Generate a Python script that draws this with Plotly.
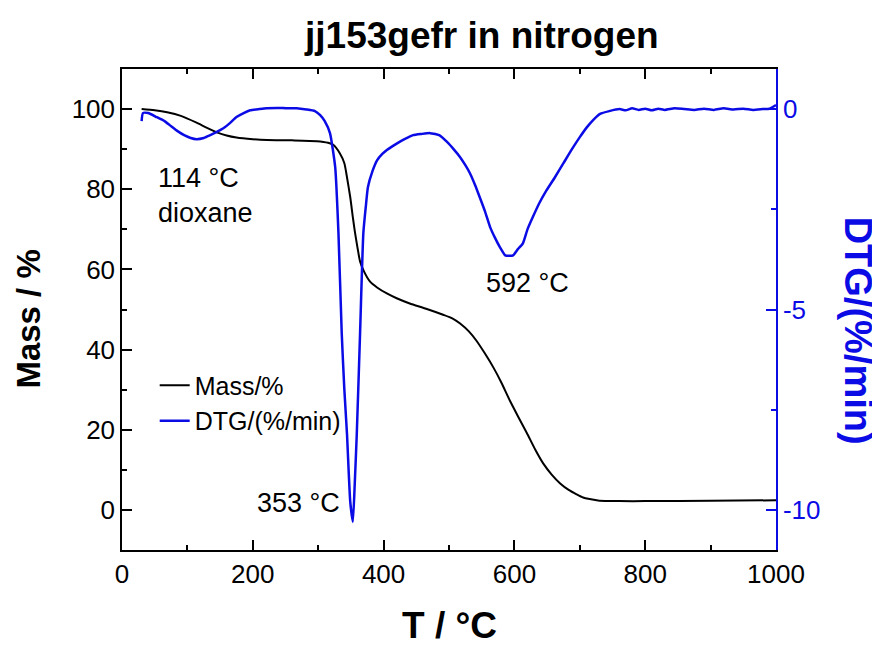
import plotly.graph_objects as go

# ---------------- data ----------------
T_mass = [30, 50, 69, 90, 114, 130, 145, 160, 175, 200, 222, 260, 298, 315, 323,
          333, 340, 344, 349, 353, 356, 360, 364, 370, 379, 390, 405, 420, 440,
          465, 491, 505, 517, 530, 542, 555, 568, 580, 593, 606, 619, 632, 644,
          657, 670, 683, 695, 705, 715, 730, 760, 800, 900, 1000]
mass = [100.0, 99.7, 99.2, 98.3, 96.6, 95.3, 94.2, 93.4, 92.9, 92.5, 92.3, 92.2,
        92.0, 91.6, 91.1, 89.0, 86.5, 83.0, 78.0, 73.0, 69.5, 65.5, 62.0, 59.5,
        57.0, 55.5, 54.0, 52.8, 51.5, 50.2, 48.7, 47.8, 46.5, 44.6, 42.2, 39.0,
        35.5, 31.8, 27.3, 23.2, 19.2, 15.0, 11.6, 8.8, 6.6, 5.0, 3.9, 3.1, 2.7,
        2.3, 2.2, 2.2, 2.3, 2.4]

T_dtg = [30, 32, 40, 53, 65, 73, 85, 95, 105, 114, 125, 135, 145, 155, 165, 175,
         186, 196, 210, 221, 237, 252, 267, 282, 295, 303, 310, 318, 326, 331,
         336, 340, 344, 349, 353, 356, 359, 364, 369, 373, 376, 383, 390, 398,
         405, 420, 432, 445, 458, 471, 485, 497, 507, 517, 525, 532, 540, 547,
         555, 563, 570, 578, 586, 592, 598, 605, 613, 620, 628, 638, 649, 662,
         675, 688, 700, 711, 720, 731, 745, 761, 770, 780, 790, 800, 810, 820,
         830, 845, 860, 875, 890, 905, 920, 935, 950, 965, 980, 990, 1000]
dtg = [-0.30, -0.10, -0.10, -0.20, -0.30, -0.40, -0.55, -0.65, -0.72, -0.75,
       -0.72, -0.65, -0.57, -0.48, -0.35, -0.20, -0.10, -0.03, 0.00, 0.02, 0.03,
       0.02, 0.02, -0.01, -0.05, -0.15, -0.30, -0.60, -1.45, -3.1, -5.6, -7.0,
       -8.1, -9.8, -10.3, -9.3, -8.1, -5.6, -3.1, -2.4, -1.95, -1.55, -1.28,
       -1.12, -1.02, -0.86, -0.75, -0.65, -0.62, -0.60, -0.65, -0.82, -1.0,
       -1.2, -1.4, -1.6, -1.9, -2.2, -2.55, -2.95, -3.2, -3.45, -3.65, -3.66,
       -3.65, -3.5, -3.35, -3.0, -2.7, -2.35, -2.03, -1.7, -1.35, -1.0, -0.7,
       -0.45, -0.28, -0.12, -0.05, 0.0, -0.03, 0.02, -0.02, 0.01, -0.03, 0.01,
       -0.02, 0.02, 0.0, -0.02, 0.01, -0.02, 0.02, -0.01, 0.01, -0.02, 0.0,
       0.01, 0.1]

y2_tickvals = [-10, -5, 0]
y2_ticktext = ["-10", "-5", "0"]

title_text = "jj153gefr in nitrogen"
x_title = "T / °C"
y_title = "Mass / %"
y2_title = "DTG/(%/min)"
peak_labels = ["114 °C<br>dioxane", "353 °C", "592 °C"]

# ---------------- styling ----------------
FONT = "Arial, Liberation Sans, sans-serif"
BLUE = "#0b0be6"
BLACK = "black"
TICK_SIZE = 26
LABEL_SIZE = 27

fig = go.Figure()
fig.add_trace(go.Scatter(x=T_mass, y=mass, mode="lines", name="Mass/%",
                         line=dict(color=BLACK, width=2, shape="spline", smoothing=0.6),
                         yaxis="y"))
fig.add_trace(go.Scatter(x=T_dtg, y=dtg, mode="lines", name="DTG/(%/min)",
                         line=dict(color=BLUE, width=2.5, shape="spline", smoothing=0.5),
                         yaxis="y2"))

# the page body adds an 8px offset, so the figure is 8px smaller on each axis
fig.update_layout(
    width=872, height=638,
    margin=dict(l=114, r=104, t=61, b=96, autoexpand=False),
    paper_bgcolor="white", plot_bgcolor="white",
    font=dict(family=FONT, size=TICK_SIZE, color="black"),
    showlegend=True,
    legend=dict(x=0.05, y=0.39, xanchor="left", yanchor="top",
                bgcolor="rgba(0,0,0,0)", font=dict(size=25, family=FONT),
                tracegroupgap=0, itemwidth=30),
    xaxis=dict(range=[0, 1000], dtick=200, tick0=0, ticks="inside", ticklen=10,
               tickwidth=1.5, tickcolor=BLACK,
               minor=dict(dtick=100, ticks="inside", ticklen=5, tickwidth=1.5, tickcolor=BLACK),
               showline=True, linecolor=BLACK, linewidth=1.5, mirror="ticks",
               showgrid=False, zeroline=False, tickfont=dict(size=TICK_SIZE)),
    yaxis=dict(range=[-10, 110], dtick=20, tick0=0, ticks="inside", ticklen=10,
               tickwidth=1.5, tickcolor=BLACK,
               minor=dict(dtick=10, ticks="inside", ticklen=5, tickwidth=1.5, tickcolor=BLACK),
               showline=True, linecolor=BLACK, linewidth=1.5,
               showgrid=False, zeroline=False, tickfont=dict(size=TICK_SIZE)),
    yaxis2=dict(range=[-11, 1], overlaying="y", side="right",
                tickvals=y2_tickvals, ticktext=y2_ticktext,
                ticks="inside", ticklen=10, tickwidth=1.5, tickcolor=BLUE,
                minor=dict(dtick=2.5, tick0=0, ticks="inside", ticklen=5, tickwidth=1.5, tickcolor=BLUE),
                showline=True, linecolor=BLUE, linewidth=1.5,
                showgrid=False, zeroline=False,
                tickfont=dict(size=TICK_SIZE, color=BLUE)),
)

annotations = [
    dict(text=title_text, xref="paper", yref="paper", x=0.549, y=1.069,
         xanchor="center", yanchor="middle", showarrow=False,
         font=dict(size=37, family=FONT, weight="bold", color=BLACK)),
    dict(text=x_title, xref="paper", yref="paper", x=0.5, y=-0.158,
         xanchor="center", yanchor="middle", showarrow=False,
         font=dict(size=37, family=FONT, weight="bold", color=BLACK)),
    dict(text=y_title, xref="paper", yref="paper", x=-0.143, y=0.48,
         xanchor="center", yanchor="middle", showarrow=False, textangle=-90,
         font=dict(size=33, family=FONT, weight="bold", color=BLACK)),
    dict(text=y2_title, xref="paper", yref="paper", x=1.1246, y=0.455,
         xanchor="center", yanchor="middle", showarrow=False, textangle=90,
         font=dict(size=38, family=FONT, weight="bold", color=BLUE)),
    dict(text=peak_labels[0], xref="x", yref="y", x=52.7, y=78.5,
         xanchor="left", yanchor="middle", align="left", showarrow=False,
         font=dict(size=LABEL_SIZE, family=FONT, color=BLACK)),
    dict(text=peak_labels[1], xref="x", yref="y", x=337, y=1.7,
         xanchor="right", yanchor="middle", showarrow=False,
         font=dict(size=LABEL_SIZE, family=FONT, color=BLACK)),
    dict(text=peak_labels[2], xref="x", yref="y", x=554, y=56.6,
         xanchor="left", yanchor="middle", showarrow=False,
         font=dict(size=LABEL_SIZE, family=FONT, color=BLACK)),
]
fig.update_layout(annotations=annotations)

fig.write_html("out.html")
